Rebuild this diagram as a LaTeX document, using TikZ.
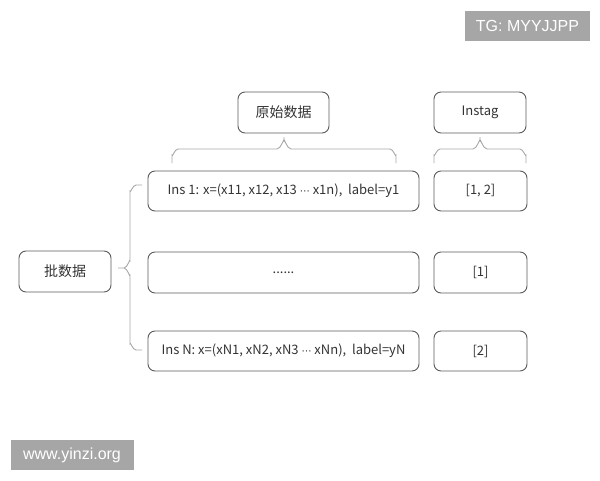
\documentclass[tikz,border=0pt]{standalone}
\usepackage{fontspec}
\setmainfont{Noto Sans CJK SC}
\newfontfamily\symfont{DejaVu Sans}
\newfontfamily\wmfont{Liberation Sans}
\newcommand{\mdots}{{\symfont\fontsize{10}{12}\selectfont ⋯}}
\definecolor{boxline}{HTML}{5A5A5A}
\definecolor{txt}{HTML}{333333}
\definecolor{bracec}{HTML}{A8A8A8}
\definecolor{wm}{HTML}{A6A6A6}
\begin{document}
\begin{tikzpicture}[x=1pt,y=-1pt,
  box/.style={draw=boxline, line width=0.9pt, rounded corners=7pt, text=txt,
    inner sep=0pt, font=\fontsize{13}{15}\selectfont},
  cnbox/.style={box, font=\fontsize{14}{16}\selectfont},
  brace/.style={draw=bracec, line width=0.9pt},
  wmark/.style={fill=wm, text=white, inner sep=0pt, font=\wmfont\fontsize{16}{18}\selectfont}]
\useasboundingbox (0,0) rectangle (600,480);
% watermarks
\node[wmark, minimum width=125pt, minimum height=30pt] (tg) at (527.5,25.5) {TG: MYYJJPP};
\node[wmark, minimum width=123pt, minimum height=30pt] (www) at (72,455) {www.yinzi.org};
% header boxes
\node[cnbox, minimum width=91pt, minimum height=41pt] (yuan) at (283.5,112.5) {原始数据};
\node[box, minimum width=92pt, minimum height=41pt] (instag) at (480,112.5) {Instag};
% rows
\node[box, minimum width=271pt, minimum height=40pt] (ins1) at (283.5,191) {Ins 1: x=(x11, x12, x13 \mdots\ x1n),\ \ label=y1};
\node[box, minimum width=271pt, minimum height=41pt] (mid) at (283.5,272.5) {......};
\node[box, minimum width=271pt, minimum height=40pt] (insN) at (283.5,351) {Ins N: x=(xN1, xN2, xN3 \mdots\ xNn),\ \ label=yN};
\node[box, minimum width=93pt, minimum height=40pt] (t1) at (480.5,191) {[1, 2]};
\node[box, minimum width=93pt, minimum height=41pt] (t2) at (480.5,272.5) {[1]};
\node[box, minimum width=93pt, minimum height=40pt] (t3) at (480.5,351) {[2]};
\node[cnbox, minimum width=92pt, minimum height=41pt] (pi) at (65,271.5) {批数据};
% brace under 原始数据
\draw[brace] (172,163) -- (172,155) to[out=-90,in=180] (178,149) -- (277,149)
  to[out=0,in=90] (284,141) -- (284,137) (284,141) to[out=90,in=180] (291,149)
  -- (390,149) to[out=0,in=-90] (396,155) -- (396,163);
% brace under Instag
\draw[brace] (434,163) -- (434,155) to[out=-90,in=180] (440,149) -- (473,149)
  to[out=0,in=90] (480,141) -- (480,137) (480,141) to[out=90,in=180] (487,149)
  -- (520,149) to[out=0,in=-90] (526,155) -- (526,163);
% left brace
\draw[brace] (142,185) -- (136,185) to[out=180,in=-90] (130,191) -- (130,261)
  to[out=90,in=0] (124,268) -- (118,268) (124,268) to[out=0,in=-90] (130,275)
  -- (130,344) to[out=90,in=180] (136,350) -- (142,350);
\end{tikzpicture}
\end{document}
